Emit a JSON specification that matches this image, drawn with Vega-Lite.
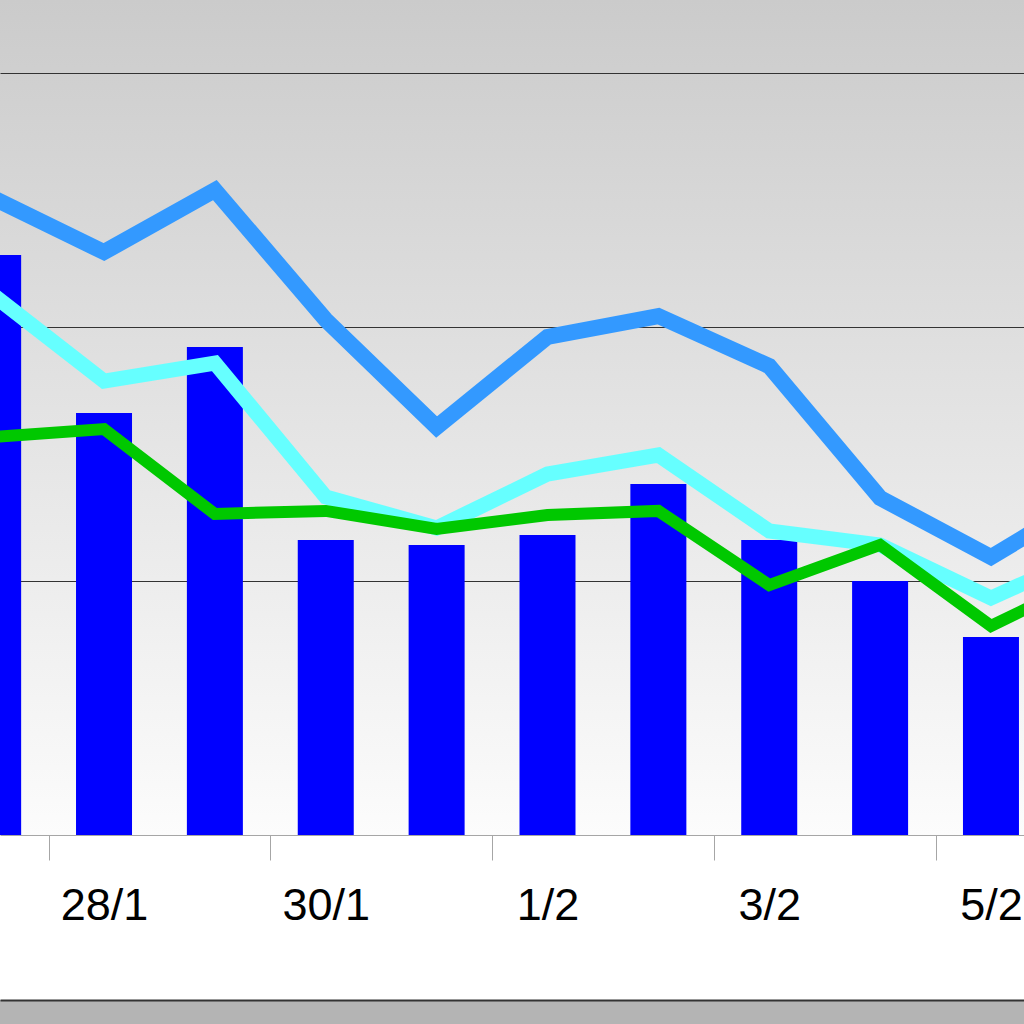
{
  "$schema": "https://vega.github.io/schema/vega-lite/v6.json",
  "width": 1024,
  "height": 1000,
  "autosize": {"type": "none"},
  "padding": {"left": 0, "right": 0, "top": 0, "bottom": 24},
  "background": "#b4b4b4",
  "view": {
    "stroke": null,
    "fill": {
      "gradient": "linear", "x1": 0, "y1": 0, "x2": 0, "y2": 1,
      "stops": [
        {"offset": 0, "color": "#cbcbcb"},
        {"offset": 0.835, "color": "#fcfcfc"},
        {"offset": 0.8351, "color": "#ffffff"},
        {"offset": 1, "color": "#ffffff"}
      ]
    }
  },
  "config": {"font": "Liberation Sans"},
  "data": {
    "values": [
      {"date": "2015-01-27", "bar": 22.83, "s1": 25.08, "s2": 21.26, "s3": 15.67},
      {"date": "2015-01-28", "bar": 16.61, "s1": 22.95, "s2": 17.87, "s3": 15.98},
      {"date": "2015-01-29", "bar": 19.21, "s1": 25.39, "s2": 18.58, "s3": 12.64},
      {"date": "2015-01-30", "bar": 11.61, "s1": 20.28, "s2": 13.31, "s3": 12.76},
      {"date": "2015-01-31", "bar": 11.42, "s1": 16.06, "s2": 12.09, "s3": 12.05},
      {"date": "2015-02-01", "bar": 11.81, "s1": 19.61, "s2": 14.21, "s3": 12.60},
      {"date": "2015-02-02", "bar": 13.82, "s1": 20.43, "s2": 14.96, "s3": 12.76},
      {"date": "2015-02-03", "bar": 11.61, "s1": 18.46, "s2": 11.97, "s3": 9.84},
      {"date": "2015-02-04", "bar": 10.0, "s1": 13.27, "s2": 11.42, "s3": 11.42},
      {"date": "2015-02-05", "bar": 7.80, "s1": 10.94, "s2": 9.33, "s3": 8.23},
      {"date": "2015-02-06", "bar": null, "s1": 13.58, "s2": 11.30, "s3": 10.35}
    ]
  },
  "layer": [
    {
      "mark": {"type": "bar", "color": "#0000ff", "width": 56, "clip": true},
      "encoding": {
        "x": {
          "field": "date", "type": "temporal",
          "scale": {
            "type": "utc",
            "nice": false,
            "padding": 0,
            "domain": [
              {"year": 2015, "month": 1, "date": 27, "hours": 1, "minutes": 29, "utc": true},
              {"year": 2015, "month": 2, "date": 5, "hours": 7, "minutes": 9, "utc": true}
            ]
          },
          "axis": {
            "orient": "bottom",
            "values": [
              {"year": 2015, "month": 1, "date": 27, "hours": 12, "utc": true},
              {"year": 2015, "month": 1, "date": 29, "hours": 12, "utc": true},
              {"year": 2015, "month": 1, "date": 31, "hours": 12, "utc": true},
              {"year": 2015, "month": 2, "date": 2, "hours": 12, "utc": true},
              {"year": 2015, "month": 2, "date": 4, "hours": 12, "utc": true}
            ],
            "offset": -165,
            "labels": false,
            "ticks": true,
            "tickSize": 25,
            "tickColor": "#a6a6a6",
            "tickWidth": 1,
            "domain": true,
            "domainColor": "#a6a6a6",
            "domainWidth": 1,
            "grid": false,
            "title": null
          }
        },
        "y": {
          "field": "bar", "type": "quantitative",
          "scale": {"domain": [-6.496, 32.874], "nice": false, "zero": false},
          "axis": {
            "values": [10, 20, 30],
            "grid": true, "gridColor": "#333333", "gridOpacity": 1, "gridWidth": 1,
            "labels": false, "ticks": false, "domain": false, "title": null
          }
        }
      }
    },
    {
      "transform": [{"fold": ["s1", "s2", "s3"], "as": ["series", "value"]}],
      "mark": {"type": "line", "clip": true, "strokeJoin": "miter", "strokeCap": "butt"},
      "encoding": {
        "x": {
          "field": "date", "type": "temporal",
          "scale": {
            "type": "utc",
            "nice": false,
            "padding": 0,
            "domain": [
              {"year": 2015, "month": 1, "date": 27, "hours": 1, "minutes": 29, "utc": true},
              {"year": 2015, "month": 2, "date": 5, "hours": 7, "minutes": 9, "utc": true}
            ]
          },
          "axis": {
            "orient": "bottom",
            "values": [
              {"year": 2015, "month": 1, "date": 28, "utc": true},
              {"year": 2015, "month": 1, "date": 30, "utc": true},
              {"year": 2015, "month": 2, "date": 1, "utc": true},
              {"year": 2015, "month": 2, "date": 3, "utc": true},
              {"year": 2015, "month": 2, "date": 5, "utc": true}
            ],
            "format": "%-d/%-m",
            "offset": 0,
            "ticks": false,
            "domain": true,
            "domainColor": "#333333",
            "domainWidth": 2,
            "grid": false,
            "labelFontSize": 45,
            "labelColor": "#000000",
            "labelFont": "Liberation Sans",
            "labelPadding": -95,
            "labelBaseline": "middle",
            "labelFlush": false,
            "labelOverlap": false,
            "title": null
          }
        },
        "y": {
          "field": "value", "type": "quantitative",
          "axis": {
            "values": [10, 20, 30],
            "grid": true, "gridColor": "#333333", "gridOpacity": 1, "gridWidth": 1,
            "labels": false, "ticks": false, "domain": false, "title": null
          }
        },
        "color": {
          "field": "series", "type": "nominal",
          "scale": {"domain": ["s1", "s2", "s3"], "range": ["#3399ff", "#66ffff", "#00c800"]},
          "legend": null
        },
        "strokeWidth": {
          "field": "series", "type": "ordinal",
          "scale": {"type": "ordinal", "domain": ["s1", "s2", "s3"], "range": [16, 15, 12]},
          "legend": null
        }
      }
    }
  ],
  "resolve": {"axis": {"x": "independent"}}
}
